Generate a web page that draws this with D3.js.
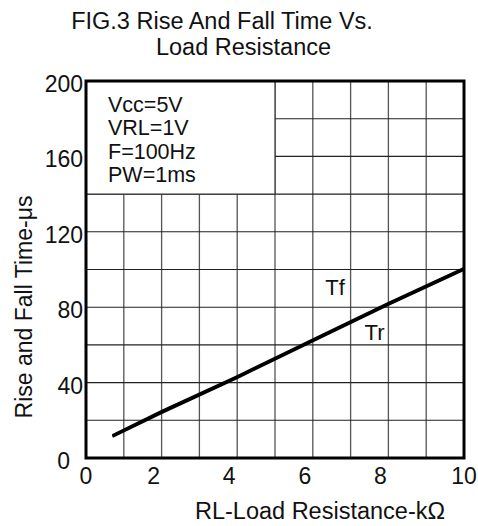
<!DOCTYPE html>
<html><head><meta charset="utf-8">
<script src="https://cdn.jsdelivr.net/npm/d3@7"></script>
<style>
html,body{margin:0;padding:0;background:#fff;}
svg{display:block;font-family:"Liberation Sans",Arial,sans-serif;}
</style></head>
<body><svg id="c" width="478" height="526"></svg>
<script>
const titleLines = ["FIG.3 Rise And Fall Time Vs.", "Load Resistance"];
const xLabel = "RL-Load Resistance-kΩ";
const yLabel = "Rise and Fall Time-μs";
const xTickLabels = [0, 2, 4, 6, 8, 10];
const yTickLabels = [0, 40, 80, 120, 160, 200];
const xGrid = [1,2,3,4,5,6,7,8,9];
const yGrid = [20,40,60,80,100,120,140,160,180];
const conditions = ["Vcc=5V", "VRL=1V", "F=100Hz", "PW=1ms"];
const resistance = [0.7, 2, 4, 6, 8, 10];
const tr = [11.3, 24.0, 42.6, 62.0, 81.4, 100.0];
const tf = [12.0, 24.8, 43.3, 62.8, 82.2, 100.7];
const seriesNames = ["Tf", "Tr"];

const svg = d3.select("#c");
const x = d3.scaleLinear().domain([0,10]).range([86,464]);
const y = d3.scaleLinear().domain([0,200]).range([458,81]);

// title
svg.append("text").attr("x",222).attr("y",29).attr("text-anchor","middle")
  .attr("font-size",23.5).attr("fill","#111").text(titleLines[0]);
svg.append("text").attr("x",243.5).attr("y",55).attr("text-anchor","middle")
  .attr("font-size",23.5).attr("fill","#111").text(titleLines[1]);

// grid
const g = svg.append("g");
g.selectAll(".vg").data(xGrid).join("line")
  .attr("x1",d=>x(d)).attr("x2",d=>x(d)).attr("y1",y(0)).attr("y2",y(200))
  .attr("stroke","#555").attr("stroke-width",1.3);
g.selectAll(".hg").data(yGrid).join("line")
  .attr("x1",x(0)).attr("x2",x(10)).attr("y1",d=>y(d)).attr("y2",d=>y(d))
  .attr("stroke","#222").attr("stroke-width",1.1);

// condition box
g.append("rect").attr("x",x(0)).attr("y",y(200)).attr("width",x(5)-x(0)).attr("height",y(140)-y(200))
  .attr("fill","#fff").attr("stroke","#333").attr("stroke-width",1.2);
g.selectAll(".cond").data(conditions).join("text")
  .attr("x",108).attr("y",(d,i)=>111.5+i*23.5)
  .attr("font-size",21.5).attr("fill","#111").text(d=>d);

// lines
const line = d3.line().x((d,i)=>x(resistance[i])).y(d=>y(d));
[tf, tr].forEach(s=>{
  svg.append("path").attr("d",line(s)).attr("fill","none")
    .attr("stroke","#000").attr("stroke-width",2.6).attr("stroke-linecap","butt");
});

// series labels
svg.append("text").attr("x",335).attr("y",295).attr("text-anchor","middle")
  .attr("font-size",22).attr("fill","#111").text(seriesNames[0]);
svg.append("text").attr("x",374.5).attr("y",340).attr("text-anchor","middle")
  .attr("font-size",22).attr("fill","#111").text(seriesNames[1]);

// frame
svg.append("rect").attr("x",x(0)).attr("y",y(200)).attr("width",x(10)-x(0)).attr("height",y(0)-y(200))
  .attr("fill","none").attr("stroke","#000").attr("stroke-width",3);

// ticks
svg.selectAll(".xt").data(xTickLabels).join("text")
  .attr("x",d=> x(d) + ((d===0||d===10)?0:-8)).attr("y",484)
  .attr("text-anchor","middle").attr("font-size",23).attr("fill","#111").text(d=>d);
svg.selectAll(".yt").data(yTickLabels).join("text")
  .attr("x",d=> d===0 ? 70 : 83).attr("y",d=>y(d)+11)
  .attr("text-anchor","end").attr("font-size",23).attr("fill","#111").text(d=>d);

// axis titles
svg.append("text").attr("x",320).attr("y",519).attr("text-anchor","middle")
  .attr("font-size",23.5).attr("fill","#111").text(xLabel);
svg.append("text").attr("transform","translate(32,307) rotate(-90)").attr("text-anchor","middle")
  .attr("font-size",23).attr("fill","#111").text(yLabel);
</script></body></html>
